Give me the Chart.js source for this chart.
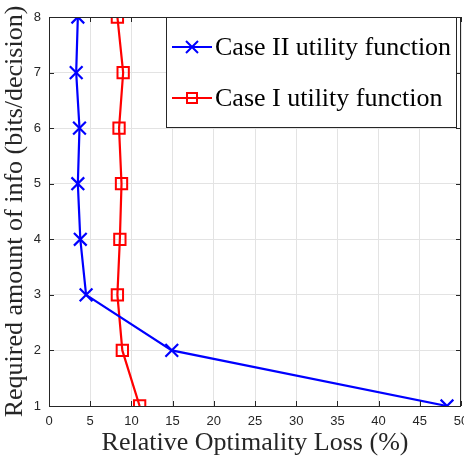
<!DOCTYPE html>
<html>
<head>
<meta charset="UTF-8">
<script src="https://cdn.jsdelivr.net/npm/chart.js"></script>
<style>
  body, html { margin: 0; padding: 0; background: #fff; }
  .wrap { width: 464px; height: 459px; position: relative; }
</style>
</head>
<body>
<div class="wrap"><canvas id="lossChart" width="464" height="459"></canvas></div>
<script>
// data
const infoBits = [8, 7, 6, 5, 4, 3, 2, 1];
const caseTwoLoss = [3.5, 3.3, 3.7, 3.5, 3.8, 4.5, 14.9, 48.3];
const caseOneLoss = [8.3, 9.0, 8.5, 8.8, 8.6, 8.3, 8.9, 11.0];
const xTicks = [0, 5, 10, 15, 20, 25, 30, 35, 40, 45, 50];
const yTicks = [1, 2, 3, 4, 5, 6, 7, 8];

const axisColor = '#262626';

function toPoints(xs) {
  return xs.map((v, i) => ({ x: v, y: infoBits[i] }));
}

// box around the axes, inward ticks, and the boxed legend
const matlabLook = {
  id: 'matlabLook',
  afterDraw(chart) {
    const { ctx, chartArea: a, scales } = chart;
    ctx.save();
    ctx.strokeStyle = axisColor;
    ctx.lineWidth = 1;
    ctx.beginPath();
    xTicks.forEach(t => {
      const px = Math.round(scales.x.getPixelForValue(t)) + 0.5;
      ctx.moveTo(px, a.bottom); ctx.lineTo(px, a.bottom - 5);
      ctx.moveTo(px, a.top); ctx.lineTo(px, a.top + 5);
    });
    yTicks.forEach(t => {
      const py = Math.round(scales.y.getPixelForValue(t)) + 0.5;
      ctx.moveTo(a.left, py); ctx.lineTo(a.left + 5, py);
      ctx.moveTo(a.right, py); ctx.lineTo(a.right - 5, py);
    });
    ctx.stroke();
    ctx.strokeRect(Math.round(a.left) + 0.5, Math.round(a.top) + 0.5,
      Math.round(a.right - a.left) - 1, Math.round(a.bottom - a.top));

    // legend
    const lx = 166.5, ly = Math.round(a.top) + 0.5, lw = 290, lh = 110;
    ctx.fillStyle = '#fff';
    ctx.fillRect(lx, ly, lw, lh);
    ctx.strokeStyle = axisColor;
    ctx.strokeRect(lx, ly, lw, lh);
    const rows = [chart.data.datasets[0], chart.data.datasets[1]];
    const rowY = [47, 98];
    rows.forEach((ds, i) => {
      const y = rowY[i];
      ctx.strokeStyle = ds.borderColor;
      ctx.lineWidth = 2;
      ctx.beginPath();
      ctx.moveTo(172, y); ctx.lineTo(212, y);
      ctx.stroke();
      const cx = 192;
      ctx.beginPath();
      if (ds.pointStyle === 'crossRot') {
        ctx.moveTo(cx - 6, y - 6); ctx.lineTo(cx + 6, y + 6);
        ctx.moveTo(cx + 6, y - 6); ctx.lineTo(cx - 6, y + 6);
      } else {
        ctx.rect(cx - 5, y - 5, 10, 10);
      }
      ctx.stroke();
      ctx.fillStyle = '#000';
      ctx.font = '26px "Liberation Serif", serif';
      ctx.textBaseline = 'middle';
      ctx.textAlign = 'left';
      ctx.fillText(ds.label, 215, y + 1);
    });
    ctx.restore();
  }
};

new Chart(document.getElementById('lossChart'), {
  type: 'line',
  data: {
    datasets: [
      {
        label: 'Case II utility function',
        data: toPoints(caseTwoLoss),
        borderColor: '#0000ff',
        backgroundColor: 'transparent',
        borderWidth: 2.2,
        pointStyle: 'crossRot',
        pointRadius: 9,
        pointBorderWidth: 2.2,
        tension: 0
      },
      {
        label: 'Case I utility function',
        data: toPoints(caseOneLoss),
        borderColor: '#ff0000',
        backgroundColor: 'transparent',
        borderWidth: 2.2,
        pointStyle: 'rect',
        pointRadius: 8,
        pointBorderWidth: 2,
        tension: 0
      }
    ]
  },
  options: {
    responsive: false,
    animation: false,
    layout: { autoPadding: false, padding: { left: 0, right: 3, top: 17, bottom: 0 } },
    scales: {
      x: {
        type: 'linear',
        min: 0,
        max: 50,
        afterBuildTicks: s => { s.ticks = xTicks.map(v => ({ value: v })); },
        afterFit: s => {
          s.height = 53;
          s.paddingLeft = 0;
          s.paddingRight = 0;
        },
        grid: { color: '#e3e3e3', drawTicks: false },
        border: { display: false },
        ticks: { color: axisColor, padding: 8, font: { family: 'Liberation Sans', size: 13 } },
        title: {
          display: true,
          text: 'Relative Optimality Loss (%)',
          color: axisColor,
          padding: { top: 0, bottom: 0 },
          font: { family: 'Liberation Serif', size: 26 }
        }
      },
      y: {
        type: 'linear',
        min: 1,
        max: 8,
        afterBuildTicks: s => { s.ticks = yTicks.map(v => ({ value: v })); },
        afterFit: s => { s.width = 49; },
        grid: { color: '#e3e3e3', drawTicks: false },
        border: { display: false },
        ticks: { color: axisColor, padding: 8, font: { family: 'Liberation Sans', size: 13 } },
        title: {
          display: true,
          text: 'Required amount of info (bits/decision)',
          color: axisColor,
          padding: { top: 0, bottom: 0 },
          font: { family: 'Liberation Serif', size: 26 }
        }
      }
    },
    plugins: {
      legend: { display: false },
      tooltip: { enabled: false }
    }
  },
  plugins: [matlabLook]
});
</script>
</body>
</html>
